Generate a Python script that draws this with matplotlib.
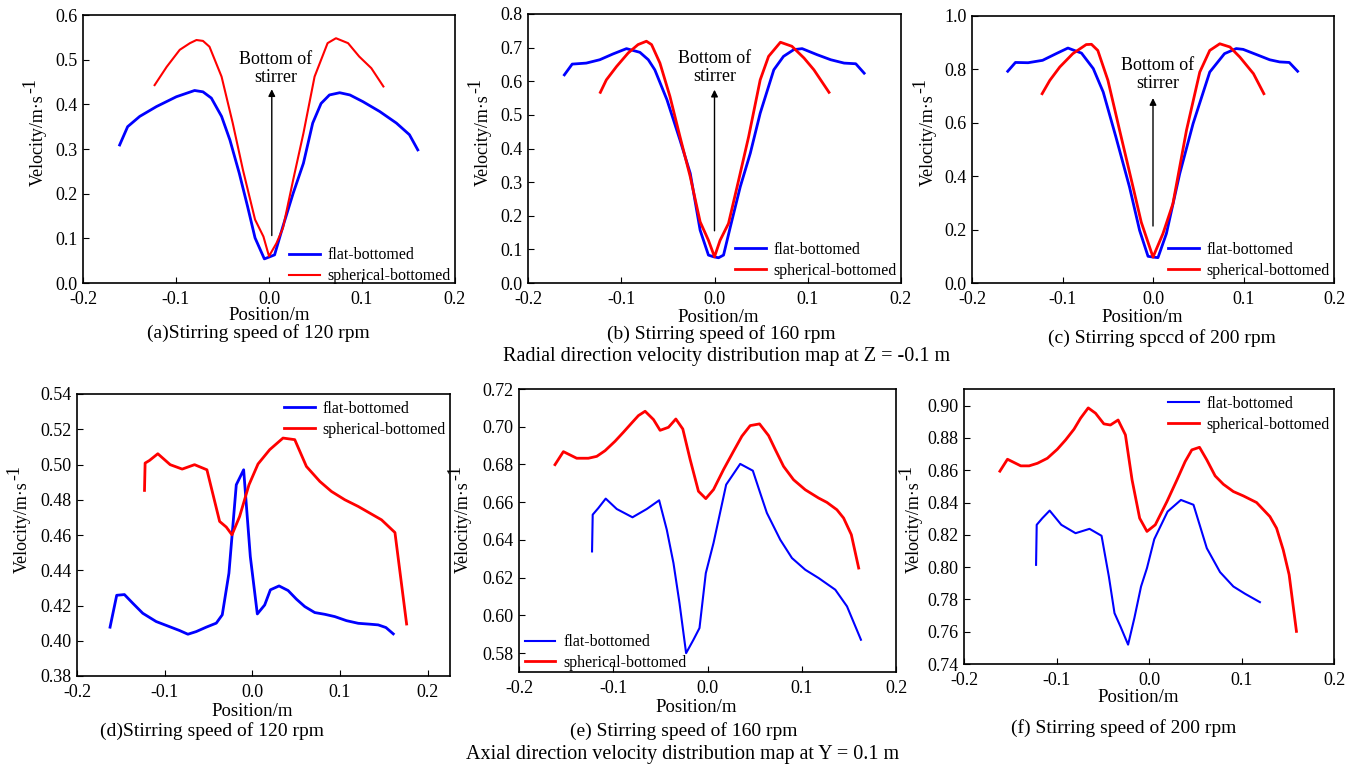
import matplotlib
matplotlib.use("Agg")
import matplotlib.pyplot as plt

plt.rcParams['font.family'] = ['Liberation Serif', 'DejaVu Serif']

W, H = 1357, 771

# ---------------- data ----------------
# (a) radial 120 rpm
a_flat_x = [-0.1606, -0.152, -0.139, -0.121, -0.0996, -0.080, -0.071, -0.062, -0.051, -0.042, -0.032, -0.023,
            -0.015, -0.005, 0.0, 0.006, 0.015, 0.026, 0.037, 0.047, 0.056, 0.065, 0.076, 0.087, 0.101, 0.119,
            0.137, 0.151, 0.160]
a_flat_y = [0.309, 0.350, 0.373, 0.395, 0.417, 0.431, 0.428, 0.414, 0.373, 0.320, 0.246, 0.171, 0.101, 0.054,
            0.058, 0.063, 0.127, 0.201, 0.268, 0.358, 0.402, 0.421, 0.426, 0.421, 0.406, 0.384, 0.358, 0.332, 0.298]
a_sph_x = [-0.123, -0.110, -0.096, -0.085, -0.078, -0.071, -0.064, -0.051, -0.039, -0.028, -0.015, -0.006, 0.0,
           0.008, 0.015, 0.026, 0.037, 0.049, 0.063, 0.072, 0.085, 0.097, 0.110, 0.123]
a_sph_y = [0.443, 0.484, 0.522, 0.537, 0.544, 0.542, 0.529, 0.462, 0.358, 0.253, 0.142, 0.104, 0.060, 0.089,
           0.123, 0.231, 0.335, 0.462, 0.537, 0.548, 0.537, 0.507, 0.481, 0.440]

# (b) radial 160 rpm
b_flat_x = [-0.161, -0.1526, -0.1375, -0.123, -0.109, -0.0944, -0.080, -0.071, -0.064, -0.051, -0.037, -0.026,
            -0.0154, -0.0065, -0.001, 0.0043, 0.0097, 0.017, 0.0276, 0.0384, 0.049, 0.0636, 0.074, 0.085, 0.094,
            0.110, 0.1246, 0.139, 0.1515, 0.1605]
b_flat_y = [0.619, 0.651, 0.654, 0.664, 0.681, 0.697, 0.686, 0.664, 0.634, 0.545, 0.425, 0.326, 0.157, 0.083,
            0.078, 0.075, 0.083, 0.167, 0.286, 0.386, 0.505, 0.634, 0.674, 0.694, 0.697, 0.679, 0.664, 0.654,
            0.652, 0.624]
b_sph_x = [-0.1224, -0.116, -0.105, -0.0926, -0.082, -0.073, -0.0675, -0.0585, -0.0478, -0.037, -0.026, -0.0154,
           -0.0065, 0.0, 0.006, 0.015, 0.0259, 0.0366, 0.049, 0.058, 0.0707, 0.083, 0.096, 0.1066, 0.1228]
b_sph_y = [0.567, 0.604, 0.644, 0.684, 0.709, 0.719, 0.709, 0.654, 0.555, 0.435, 0.316, 0.182, 0.127, 0.078,
           0.127, 0.177, 0.306, 0.435, 0.604, 0.674, 0.716, 0.704, 0.669, 0.634, 0.567]

# (c) radial 200 rpm
c_flat_x = [-0.1605, -0.152, -0.138, -0.122, -0.107, -0.094, -0.079, -0.066, -0.055, -0.041, -0.026, -0.0148,
            -0.0055, 0.0, 0.0055, 0.0148, 0.0295, 0.0443, 0.0627, 0.079, 0.092, 0.0996, 0.114, 0.129, 0.140,
            0.1506, 0.1598]
c_flat_y = [0.793, 0.826, 0.825, 0.834, 0.859, 0.880, 0.861, 0.803, 0.715, 0.547, 0.360, 0.197, 0.100, 0.097,
            0.095, 0.185, 0.409, 0.597, 0.790, 0.859, 0.878, 0.875, 0.856, 0.836, 0.828, 0.826, 0.793]
c_sph_x = [-0.1225, -0.114, -0.103, -0.0886, -0.0738, -0.068, -0.061, -0.0498, -0.0369, -0.0221, -0.013, 0.0,
           0.011, 0.022, 0.037, 0.0517, 0.0627, 0.0738, 0.085, 0.096, 0.111, 0.1225]
c_sph_y = [0.709, 0.759, 0.809, 0.859, 0.893, 0.894, 0.871, 0.759, 0.572, 0.360, 0.228, 0.097, 0.185, 0.297,
           0.572, 0.790, 0.871, 0.896, 0.884, 0.846, 0.784, 0.709]

# (d) axial 120 rpm
d_flat_x = [-0.1623, -0.1547, -0.1459, -0.1364, -0.125, -0.1097, -0.0945, -0.083, -0.0735, -0.064, -0.0526,
            -0.0411, -0.0343, -0.0267, -0.0183, -0.0099, -0.0023, 0.0057, 0.0141, 0.0206, 0.0305, 0.0408, 0.0503,
            0.0598, 0.0712, 0.0827, 0.0941, 0.1074, 0.1208, 0.1341, 0.1436, 0.1524, 0.1608]
d_flat_y = [0.4077, 0.4258, 0.4262, 0.4213, 0.4156, 0.4109, 0.4080, 0.4058, 0.4037, 0.4052, 0.4077, 0.4100,
            0.4147, 0.4383, 0.4885, 0.4970, 0.4478, 0.4152, 0.4203, 0.4289, 0.4311, 0.4285, 0.4236, 0.4194,
            0.4160, 0.4150, 0.4137, 0.4114, 0.4099, 0.4094, 0.4090, 0.4075, 0.4039]
d_sph_x = [-0.1230, -0.1223, -0.1173, -0.1078, -0.0937, -0.0800, -0.0659, -0.0518, -0.0373, -0.0297, -0.0232,
           -0.0145, -0.0038, 0.0065, 0.0198, 0.0350, 0.0484, 0.0617, 0.0770, 0.0903, 0.1055, 0.1208, 0.1341,
           0.1474, 0.1627, 0.1760]
d_sph_y = [0.4853, 0.5008, 0.5023, 0.5061, 0.4999, 0.4974, 0.4999, 0.4970, 0.4677, 0.4645, 0.4601, 0.4705,
           0.4885, 0.5003, 0.5084, 0.5150, 0.5141, 0.4989, 0.4904, 0.4847, 0.4800, 0.4762, 0.4724, 0.4686,
           0.4614, 0.4095]

# (e) axial 160 rpm
e_flat_x = [-0.1225, -0.1218, -0.1158, -0.1080, -0.0963, -0.0796, -0.0644, -0.0513, -0.0432, -0.0361, -0.0297,
            -0.0227, -0.0149, -0.0085, -0.0018, 0.0064, 0.0198, 0.0347, 0.0481, 0.0559, 0.0630, 0.0772, 0.0896,
            0.1037, 0.1179, 0.1356, 0.1480, 0.1628]
e_flat_y = [0.6339, 0.6534, 0.6569, 0.6619, 0.6564, 0.6520, 0.6564, 0.6610, 0.6454, 0.6277, 0.6065, 0.5800,
            0.5871, 0.5933, 0.6224, 0.6384, 0.6693, 0.6803, 0.6767, 0.6649, 0.6543, 0.6401, 0.6304, 0.6242,
            0.6198, 0.6136, 0.6048, 0.5871]
e_sph_x = [-0.1618, -0.1529, -0.1388, -0.1264, -0.1175, -0.1087, -0.0981, -0.0892, -0.0804, -0.0733, -0.0662,
           -0.0573, -0.0503, -0.0414, -0.0336, -0.0262, -0.0184, -0.0096, -0.0018, 0.0064, 0.0170, 0.0276,
           0.0365, 0.0453, 0.0552, 0.0648, 0.0719, 0.0807, 0.0913, 0.1037, 0.1179, 0.1267, 0.1373, 0.1444,
           0.1526, 0.1604]
e_sph_y = [0.6799, 0.6868, 0.6833, 0.6833, 0.6843, 0.6873, 0.6923, 0.6971, 0.7020, 0.7059, 0.7082, 0.7038,
           0.6981, 0.6997, 0.7041, 0.6988, 0.6826, 0.6658, 0.6619, 0.6667, 0.6773, 0.6870, 0.6950, 0.7006,
           0.7015, 0.6953, 0.6879, 0.6790, 0.6719, 0.6666, 0.6622, 0.6599, 0.6560, 0.6516, 0.6428, 0.6251]

# (f) axial 200 rpm
f_flat_x = [-0.1221, -0.1214, -0.1153, -0.1074, -0.0948, -0.0794, -0.0643, -0.0513, -0.0434, -0.0373, -0.0309,
            -0.0226, -0.0158, -0.0086, -0.0022, 0.0057, 0.0201, 0.0345, 0.0481, 0.0625, 0.0768, 0.0912, 0.1038,
            0.1199]
f_flat_y = [0.8014, 0.8262, 0.8303, 0.8350, 0.8262, 0.8210, 0.8237, 0.8194, 0.7942, 0.7715, 0.7633, 0.7520,
            0.7685, 0.7880, 0.7994, 0.8173, 0.8344, 0.8416, 0.8386, 0.8117, 0.7969, 0.7880, 0.7835, 0.7783]
f_sph_x = [-0.1612, -0.1530, -0.1386, -0.1296, -0.1206, -0.1099, -0.0991, -0.0901, -0.0811, -0.0740, -0.0657,
           -0.0578, -0.0488, -0.0417, -0.0334, -0.0255, -0.0183, -0.0101, -0.0022, 0.0068, 0.0194, 0.0302,
           0.0391, 0.0463, 0.0546, 0.0625, 0.0715, 0.0804, 0.0912, 0.1020, 0.1163, 0.1307, 0.1379, 0.1451,
           0.1515, 0.1594]
f_sph_y = [0.8594, 0.8668, 0.8627, 0.8627, 0.8643, 0.8674, 0.8730, 0.8788, 0.8854, 0.8922, 0.8986, 0.8953,
           0.8887, 0.8880, 0.8911, 0.8819, 0.8540, 0.8303, 0.8221, 0.8262, 0.8406, 0.8540, 0.8654, 0.8726,
           0.8742, 0.8664, 0.8565, 0.8513, 0.8468, 0.8441, 0.8400, 0.8313, 0.8241, 0.8107, 0.7953, 0.7602]

captions = ["(a)Stirring speed of 120 rpm", "(b) Stirring speed of 160 rpm", "(c) Stirring spccd of 200 rpm",
            "(d)Stirring speed of 120 rpm", "(e) Stirring speed of 160 rpm", "(f) Stirring speed of 200 rpm"]
row_titles = ["Radial direction velocity distribution map at Z = -0.1 m",
              "Axial direction velocity distribution map at Y = 0.1 m"]
legend_labels = ["flat-bottomed", "spherical-bottomed"]
x_ticks = [-0.2, -0.1, 0.0, 0.1, 0.2]

BLUE = '#0000ff'
RED = '#ff0000'

fig = plt.figure(figsize=(W / 100, H / 100), dpi=100)


def add_ax(l, t, r, b):
    return fig.add_axes([l / W, 1 - b / H, (r - l) / W, (b - t) / H])


def ftext(x, y, s, **kw):
    return fig.text(x / W, 1 - y / H, s, ha='center', va='center', **kw)


panels = [
    dict(box=(83, 15, 455, 283), xlim=(-0.2, 0.2), ylim=(0, 0.6), yt=[0, 0.1, 0.2, 0.3, 0.4, 0.5, 0.6], yfmt='%.1f',
         flat=(a_flat_x, a_flat_y), sph=(a_sph_x, a_sph_y), lw=(2.0, 1.5),
         leg=dict(loc='lower right', bbox_to_anchor=(1.015, -0.04)),
         arrow=(0.003, 0.10, 0.44), txt=(0.007, 0.48),
         cap=(258, 333), xl=(269, 316), yl=(38, 140)),
    dict(box=(528, 14, 901, 283), xlim=(-0.2, 0.2), ylim=(0, 0.8), yt=[0, 0.1, 0.2, 0.3, 0.4, 0.5, 0.6, 0.7, 0.8],
         yfmt='%.1f', flat=(b_flat_x, b_flat_y), sph=(b_sph_x, b_sph_y), lw=(2.0, 2.0),
         leg=dict(loc='lower right', bbox_to_anchor=(1.015, -0.02)),
         arrow=(0.0, 0.147, 0.583), txt=(0.0, 0.64),
         cap=(721, 334), xl=(718, 317), yl=(483, 140)),
    dict(box=(972, 16, 1334, 283), xlim=(-0.2, 0.2), ylim=(0, 1.0), yt=[0, 0.2, 0.4, 0.6, 0.8, 1.0], yfmt='%.1f',
         flat=(c_flat_x, c_flat_y), sph=(c_sph_x, c_sph_y), lw=(2.0, 2.0),
         leg=dict(loc='lower right', bbox_to_anchor=(1.015, -0.02)),
         arrow=(0.0, 0.203, 0.703), txt=(0.005, 0.78),
         cap=(1162, 338), xl=(1142, 317), yl=(928, 140)),
    dict(box=(77, 394, 450, 676), xlim=(-0.2, 0.2255), ylim=(0.38, 0.54),
         yt=[0.38, 0.40, 0.42, 0.44, 0.46, 0.48, 0.50, 0.52, 0.54], yfmt='%.2f',
         flat=(d_flat_x, d_flat_y), sph=(d_sph_x, d_sph_y), lw=(2.0, 2.0),
         leg=dict(loc='upper right', bbox_to_anchor=(1.015, 1.01)),
         arrow=None, cap=(212, 731), xl=(252, 711), yl=(22, 527)),
    dict(box=(519, 389, 896, 672), xlim=(-0.2, 0.2), ylim=(0.570, 0.72),
         yt=[0.58, 0.60, 0.62, 0.64, 0.66, 0.68, 0.70, 0.72], yfmt='%.2f',
         flat=(e_flat_x, e_flat_y), sph=(e_sph_x, e_sph_y), lw=(1.5, 2.0),
         leg=dict(loc='lower left', bbox_to_anchor=(-0.01, -0.03)),
         arrow=None, cap=(684, 731), xl=(696, 707), yl=(463, 527)),
    dict(box=(964, 389, 1334, 664), xlim=(-0.2, 0.2), ylim=(0.74, 0.9103),
         yt=[0.74, 0.76, 0.78, 0.80, 0.82, 0.84, 0.86, 0.88, 0.90], yfmt='%.2f',
         flat=(f_flat_x, f_flat_y), sph=(f_sph_x, f_sph_y), lw=(1.5, 2.0),
         leg=dict(loc='upper right', bbox_to_anchor=(1.015, 1.01)),
         arrow=None, cap=(1124, 728), xl=(1138, 698), yl=(914, 527)),
]

for i, p in enumerate(panels):
    ax = add_ax(*p['box'])
    ax.plot(*p['flat'], color=BLUE, lw=p['lw'][0], label=legend_labels[0])
    ax.plot(*p['sph'], color=RED, lw=p['lw'][1], label=legend_labels[1])
    ax.set_xlim(*p['xlim'])
    ax.set_ylim(*p['ylim'])
    ax.set_xticks(x_ticks)
    ax.set_xticklabels(['%.1f' % v for v in x_ticks])
    ax.set_yticks(p['yt'])
    ax.set_yticklabels([p['yfmt'] % v for v in p['yt']])
    ax.tick_params(direction='in', length=4, width=0.8, labelsize=13, pad=4)
    ax.tick_params(axis='x', pad=6)
    for s in ax.spines.values():
        s.set_linewidth(1.2)
    ax.legend(frameon=False, fontsize=11.5, handlelength=1.9, handletextpad=0.5, labelspacing=0.3,
              borderaxespad=0.2, **p['leg'])
    if p['arrow'] is not None:
        ax0, y0, y1 = p['arrow']
        ax.annotate('', xy=(ax0, y1), xytext=(ax0, y0),
                    arrowprops=dict(arrowstyle='-|>', color='black', lw=1.0, mutation_scale=10))
        ax.text(p['txt'][0], p['txt'][1], 'Bottom of\nstirrer', ha='center', va='center', fontsize=13,
                linespacing=1.05)
    ftext(*p['cap'], captions[i], fontsize=14)
    ftext(*p['xl'], 'Position/m', fontsize=13.5)
    yl = ftext(*p['yl'], 'Velocity/m\u00b7s', fontsize=13, rotation=90)
    ax.annotate('-1', xy=(0.5, 1.0), xycoords=yl, xytext=(-5, 1), textcoords='offset points',
                fontsize=13, rotation=90, ha='center', va='bottom', annotation_clip=False)

ftext(727, 357, row_titles[0], fontsize=14.5)
ftext(683, 755, row_titles[1], fontsize=14.5)

fig.savefig('out.png', dpi=100)
